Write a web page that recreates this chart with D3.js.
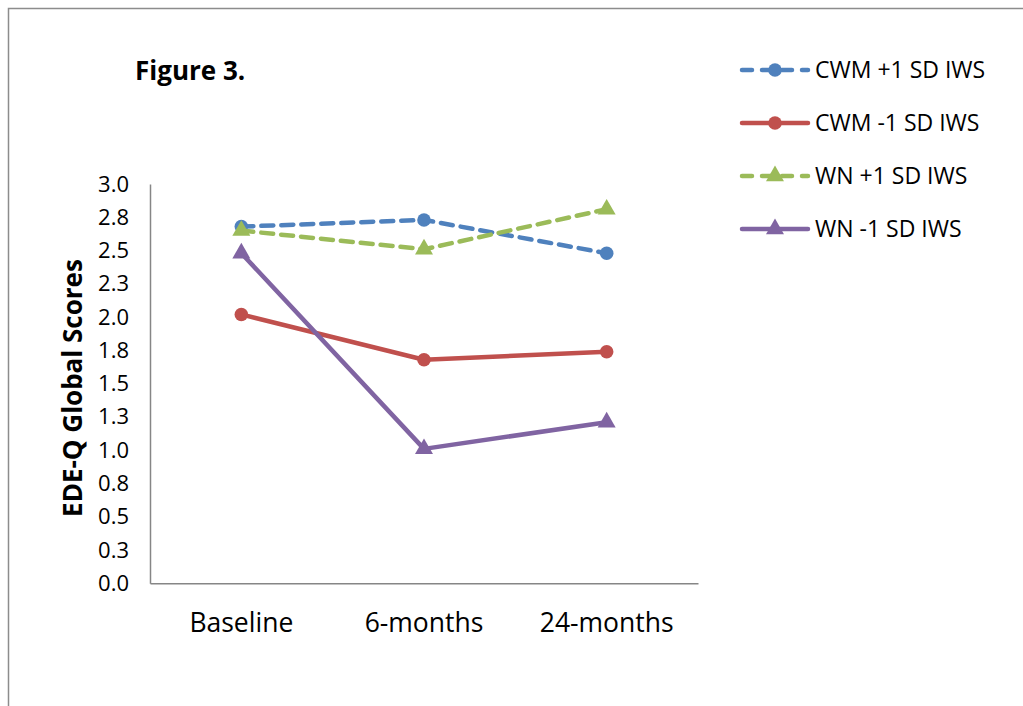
<!DOCTYPE html>
<html><head><meta charset="utf-8">
<script src="https://cdn.jsdelivr.net/npm/d3@7"></script>
<style>body{margin:0;background:#fff}svg{display:block}</style>
</head><body>
<script>
const categories = ["Baseline", "6-months", "24-months"];
const seriesNames = ["CWM +1 SD IWS", "CWM -1 SD IWS", "WN +1 SD IWS", "WN -1 SD IWS"];
const cwmHigh = [2.68, 2.73, 2.48];
const cwmLow = [2.02, 1.68, 1.74];
const wnHigh = [2.65, 2.51, 2.81];
const wnLow = [2.48, 1.01, 1.21];
const yTicks = [0, 0.25, 0.5, 0.75, 1, 1.25, 1.5, 1.75, 2, 2.25, 2.5, 2.75, 3];
const colors = ["#4F81BD", "#C0504D", "#9BBB59", "#8064A2"];
const dashed = [true, false, true, false];
const markers = ["circle", "circle", "triangle", "triangle"];
const allValues = [cwmHigh, cwmLow, wnHigh, wnLow];

(function () {
const W = 1023, H = 706;
const font = "'Open Sans', sans-serif";
const svg = d3.select("body").append("svg").attr("width", W).attr("height", H);
svg.append("rect").attr("width", W).attr("height", H).attr("fill", "#fff");
svg.append("path").attr("d", "M8.5,706 L8.5,8.5 L1023,8.5").attr("fill", "none").attr("stroke", "#8c8c8c").attr("stroke-width", 1.5);

const pLeft = 150, pRight = 698, pTop = 184, pBottom = 583.3;
const x = d3.scaleBand().domain(categories).range([pLeft, pRight]);
const y = d3.scaleLinear().domain([0, 3]).range([pBottom, pTop]);

svg.append("text").attr("x", 135).attr("y", 80).text("Figure 3.")
  .attr("font-family", font).attr("font-weight", "bold").attr("font-size", 26).attr("fill", "#000");

const yAxis = d3.axisLeft(y).tickValues(yTicks).tickSize(0).tickPadding(21).tickFormat(d3.format(".1f"));
const gy = svg.append("g").attr("transform", `translate(${pLeft},0)`).call(yAxis);
gy.select(".domain").attr("stroke", "#868686").attr("stroke-width", 1.5);
gy.selectAll("text").attr("font-family", font).attr("font-size", 22).attr("fill", "#000");

const xAxis = d3.axisBottom(x).tickSize(0).tickPadding(30);
const gx = svg.append("g").attr("transform", `translate(0,${pBottom})`).call(xAxis);
gx.select(".domain").attr("stroke", "#868686").attr("stroke-width", 1.5);
gx.selectAll("text").attr("font-family", font).attr("font-size", 26.5).attr("fill", "#000");

svg.append("text").attr("transform", `translate(82,388) rotate(-90)`).attr("text-anchor", "middle")
  .text("EDE-Q Global Scores").attr("font-family", font).attr("font-weight", "bold").attr("font-size", 26).attr("fill", "#000");

const line = d3.line().x((d, i) => x(categories[i]) + x.bandwidth() / 2).y(d => y(d));
const tri = d3.symbol().type(d3.symbolTriangle).size(140);
const circ = d3.symbol().type(d3.symbolCircle).size(145);

function drawMarker(g, type, cx, cy, color) {
  g.append("path").attr("d", type === "circle" ? circ() : tri())
    .attr("transform", `translate(${cx},${cy})`).attr("fill", color);
}

allValues.forEach((vals, s) => {
  const g = svg.append("g");
  g.append("path").datum(vals).attr("d", line).attr("fill", "none").attr("stroke", colors[s])
    .attr("stroke-width", 4.5).attr("stroke-dasharray", dashed[s] ? "12,8" : null)
    .attr("stroke-linecap", dashed[s] ? "round" : "butt").attr("stroke-linejoin", "round");
  vals.forEach((v, i) => drawMarker(g, markers[s], x(categories[i]) + x.bandwidth() / 2, y(v), colors[s]));
});

const legY = [70, 123, 176, 229];
seriesNames.forEach((name, s) => {
  const g = svg.append("g");
  g.append("line").attr("x1", 742).attr("x2", 808).attr("y1", legY[s]).attr("y2", legY[s])
    .attr("stroke", colors[s]).attr("stroke-width", 4.5)
    .attr("stroke-dasharray", dashed[s] ? "10,10" : null).attr("stroke-linecap", "round");
  drawMarker(g, markers[s], 775, legY[s], colors[s]);
  g.append("text").attr("x", 815).attr("y", legY[s] + 8).text(name)
    .attr("font-family", font).attr("font-size", 23).attr("fill", "#000");
});
})();
</script>
</body></html>
